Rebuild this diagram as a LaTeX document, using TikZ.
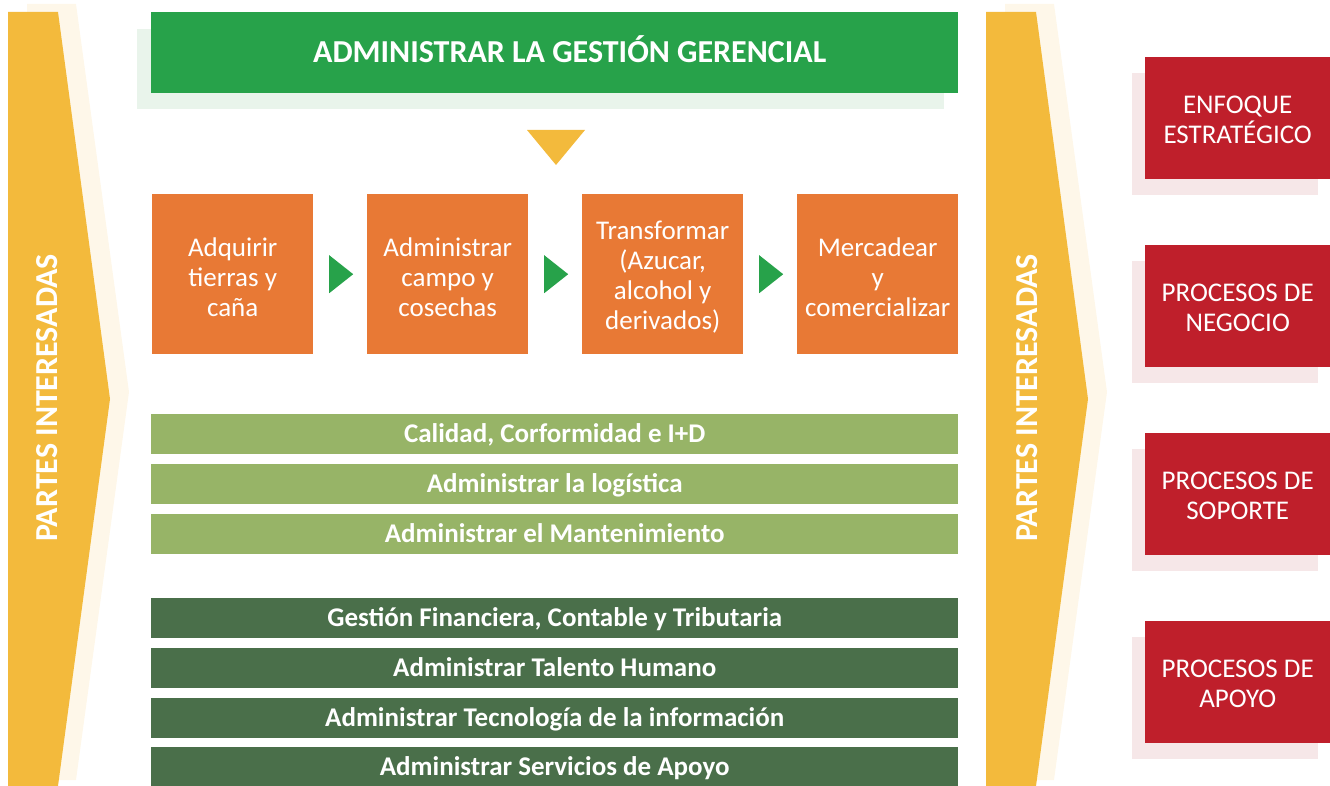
\documentclass[tikz,border=0pt]{standalone}
\usepackage{fontspec}
\setmainfont{Carlito}
\usetikzlibrary{calc}
\definecolor{yel}{HTML}{F3BA3C}
\definecolor{cream}{HTML}{FEF7E9}
\definecolor{topgreen}{HTML}{27A24A}
\definecolor{topshadow}{HTML}{E9F4EB}
\definecolor{orng}{HTML}{E87935}
\definecolor{lgreen}{HTML}{97B467}
\definecolor{dgreen}{HTML}{4A6F4A}
\definecolor{redbox}{HTML}{BF1F2B}
\definecolor{redshadow}{HTML}{F6E7E8}
\newcommand{\lowerby}[2]{\raisebox{-#1}[\height][\depth]{\parbox{155pt}{\centering #2}}}
\tikzset{
  procbox/.style={fill=orng, text=white, anchor=north west, inner sep=0pt,
    minimum width=161pt, minimum height=160pt, align=center,
    font=\fontsize{27}{30}\selectfont},
  lbar/.style={fill=lgreen, text=white, anchor=north west, inner sep=0pt,
    minimum width=807pt, minimum height=40pt, text height=17.4pt, text depth=0pt,
    font=\fontsize{27}{30}\selectfont\bfseries},
  dbar/.style={lbar, fill=dgreen},
  redcard/.style={fill=redbox, text=white, anchor=north west, inner sep=0pt,
    minimum width=185pt, minimum height=122pt, align=center,
    font=\fontsize{27}{30}\selectfont},
  redshade/.style={fill=redshadow},
  sidetext/.style={text=white, rotate=90, text height=20.6pt, text depth=0pt,
    font=\fontsize{32}{36}\selectfont\bfseries},
  flowarrow/.style={fill=topgreen}
}
\begin{document}
\begin{tikzpicture}[x=1pt,y=-1pt]
\useasboundingbox (0,0) rectangle (1330,786);
% left chevron
\fill[cream] (27,4) -- (76,4) -- (129,392) -- (76,780) -- (27,780) -- cycle;
\fill[yel] (8,12) -- (58,12) -- (110,399) -- (58,786) -- (8,786) -- cycle;
\node[sidetext] (leftlbl) at (47,398) {PARTES INTERESADAS};
% right chevron
\fill[cream] (1005,4) -- (1054,4) -- (1107,392) -- (1054,780) -- (1005,780) -- cycle;
\fill[yel] (986,12) -- (1036,12) -- (1088,399) -- (1036,786) -- (986,786) -- cycle;
\node[sidetext] (rightlbl) at (1027,398) {PARTES INTERESADAS};
% title
\fill[topshadow] (137,29) rectangle (944,109);
\node[fill=topgreen, text=white, anchor=north west, inner sep=0pt,
  minimum width=807pt, minimum height=81pt, text height=20.6pt, text depth=0pt,
  font=\fontsize{32}{36}\selectfont\bfseries] (title) at (151,12)
  {\hspace*{30pt}ADMINISTRAR LA GESTIÓN GERENCIAL};
% yellow triangle
\fill[yel] (527,130) -- (585,130) -- (556,165) -- cycle;
% process boxes
\node[procbox] (b1) at (152,194) {\lowerby{3pt}{Adquirir\\tierras y\\caña}};
\node[procbox] (b2) at (367,194) {\lowerby{3pt}{Administrar\\campo y\\cosechas}};
\node[procbox] (b3) at (582,194) {\lowerby{3pt}{Transformar\\(Azucar,\\alcohol y\\derivados)}};
\node[procbox] (b4) at (797,194) {\lowerby{3pt}{Mercadear\\y\\comercializar}};
\foreach \a/\b in {b1/b2,b2/b3,b3/b4}{
  \coordinate (m) at ($(\a.east)!0.5!(\b.west)$);
  \fill[flowarrow] ($(m)+(-11,-19)$) -- ($(m)+(13,0)$) -- ($(m)+(-11,19)$) -- cycle;
}
% support bars
\node[lbar] (s1) at (151,414) {Calidad, Corformidad e I+D};
\node[lbar] (s2) at (151,464) {Administrar la logística};
\node[lbar] (s3) at (151,514) {Administrar el Mantenimiento};
\node[dbar] (a1) at (151,598) {Gestión Financiera, Contable y Tributaria};
\node[dbar] (a2) at (151,648) {Administrar Talento Humano};
\node[dbar] (a3) at (151,698) {Administrar Tecnología de la información};
\node[dbar] (a4) at (151,747) {Administrar Servicios de Apoyo};
% legend cards
\foreach \i/\t in {0/{ENFOQUE\\ESTRATÉGICO},1/{PROCESOS DE\\NEGOCIO},2/{PROCESOS DE\\SOPORTE},3/{PROCESOS DE\\APOYO}}{
  \fill[redshade] (1132,73+188*\i) rectangle (1318,195+188*\i);
  \node[redcard] (card\i) at (1145,57+188*\i) {\raisebox{-1.5pt}[\height][\depth]{\parbox{180pt}{\centering\t}}};
}
\end{tikzpicture}
\end{document}
